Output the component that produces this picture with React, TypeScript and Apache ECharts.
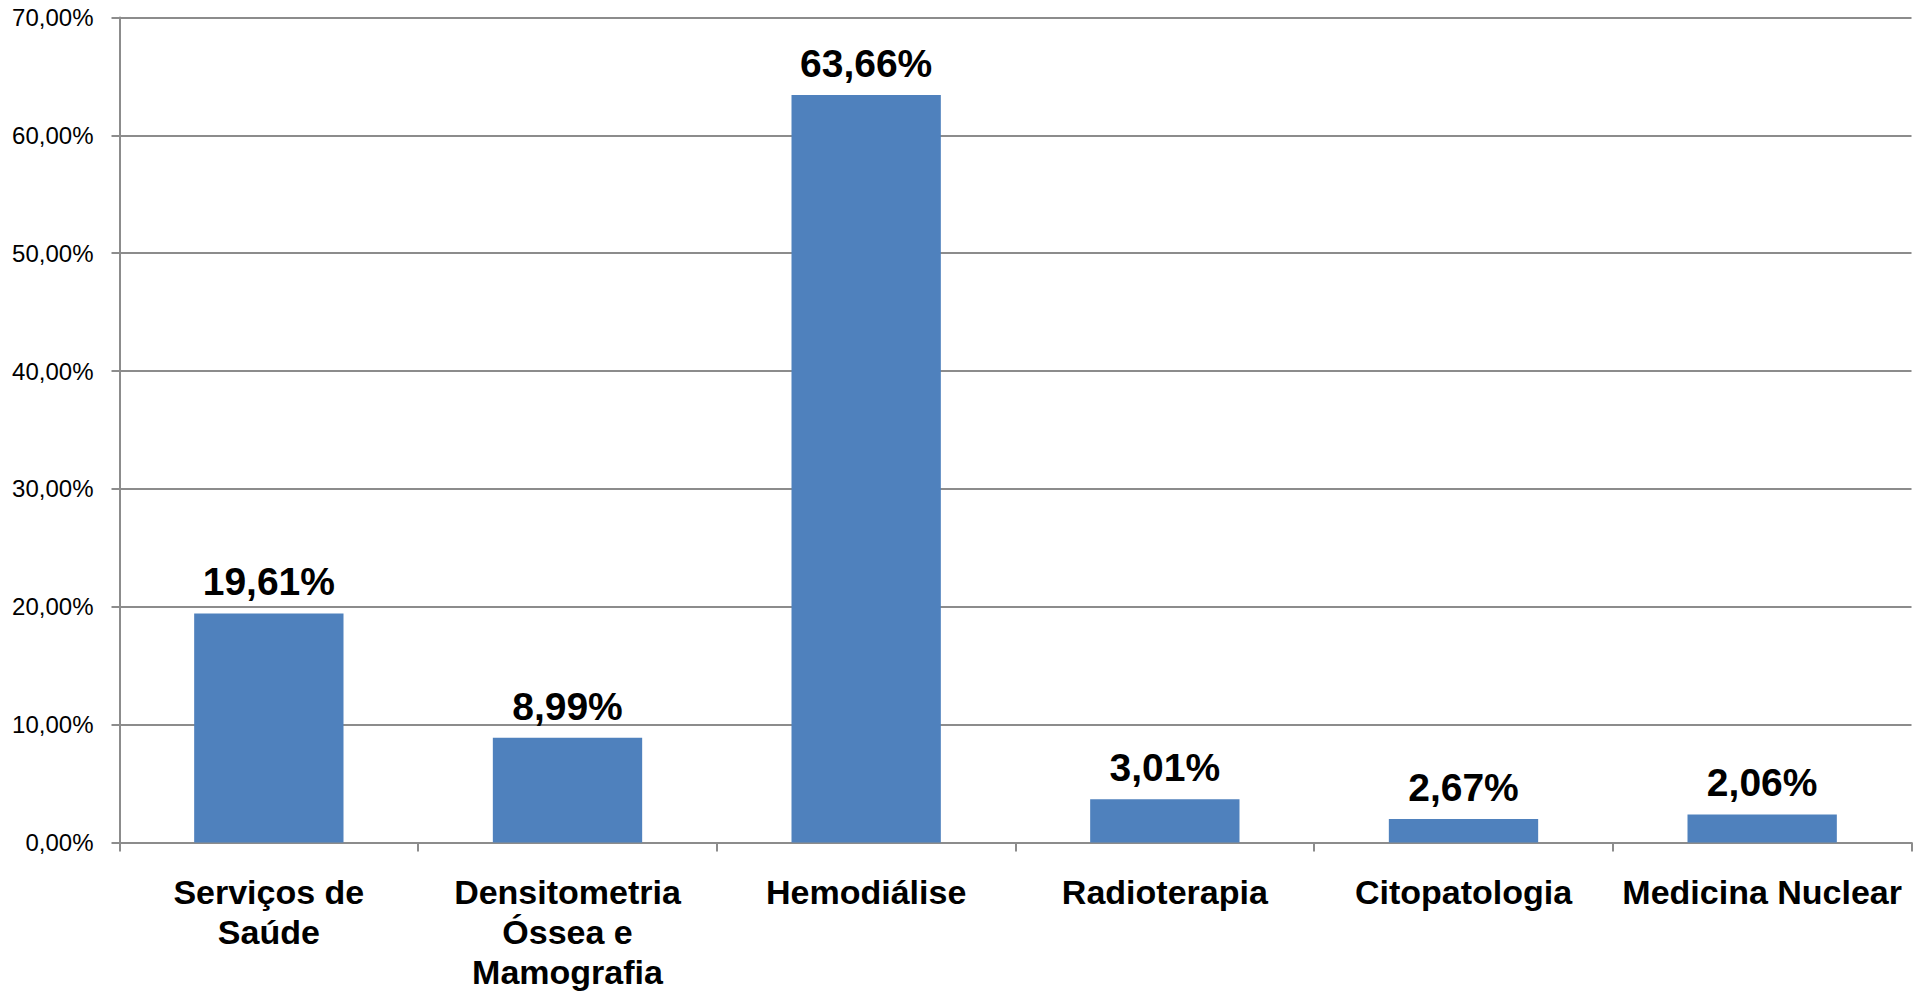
import React, { useEffect, useRef } from "react";
import * as echarts from "echarts";

const categories = [
  "Serviços de\nSaúde",
  "Densitometria\nÓssea e\nMamografia",
  "Hemodiálise",
  "Radioterapia",
  "Citopatologia",
  "Medicina Nuclear",
];
const barValues = [19.44, 8.88, 63.43, 3.68, 2.0, 2.38];
const labelTexts = ["19,61%", "8,99%", "63,66%", "3,01%", "2,67%", "2,06%"];
const yMin = 0;
const yMax = 70;
const yInterval = 10;

export default function App() {
  const ref = useRef<HTMLDivElement>(null);
  useEffect(() => {
    if (!ref.current) return;
    const chart = echarts.init(ref.current, undefined, { renderer: "svg" });
    const grey = "#8c8c8c";
    chart.setOption({
      animation: false,
      backgroundColor: "#ffffff",
      grid: {
        left: 119.5,
        right: 14.5,
        top: 17.5,
        bottom: 149.5,
        containLabel: false,
        outerBoundsMode: "none",
      },
      xAxis: {
        type: "category",
        data: categories,
        boundaryGap: true,
        axisLine: { show: true, lineStyle: { color: grey, width: 2 } },
        axisTick: { show: true, length: 9, lineStyle: { color: grey, width: 2 } },
        axisLabel: {
          interval: 0,
          margin: 29,
          color: "#000000",
          fontFamily: "Liberation Sans, Arial, sans-serif",
          fontWeight: "bold",
          fontSize: 34,
          lineHeight: 40,
          align: "center",
        },
        splitLine: { show: false },
      },
      yAxis: {
        type: "value",
        min: yMin,
        max: yMax,
        interval: yInterval,
        axisLine: { show: true, lineStyle: { color: grey, width: 2 } },
        axisTick: { show: true, length: 8, lineStyle: { color: grey, width: 2 } },
        splitLine: { show: true, lineStyle: { color: grey, width: 2 } },
        axisLabel: {
          margin: 26,
          color: "#000000",
          fontFamily: "Liberation Sans, Arial, sans-serif",
          fontSize: 24,
          formatter: (v: number) => v.toFixed(2).replace(".", ",") + "%",
        },
      },
      series: [
        {
          type: "bar",
          data: barValues,
          barWidth: "50%",
          itemStyle: { color: "#4f81bd" },
          label: {
            show: true,
            position: "top",
            distance: 12,
            color: "#000000",
            fontFamily: "Liberation Sans, Arial, sans-serif",
            fontWeight: "bold",
            fontSize: 39,
            formatter: (p: any) => labelTexts[p.dataIndex],
          },
        },
      ],
    });
    return () => chart.dispose();
  }, []);
  return (
    <div
      ref={ref}
      style={{ position: "fixed", left: 0, top: 0, width: 1926, height: 992, background: "#fff" }}
    />
  );
}
